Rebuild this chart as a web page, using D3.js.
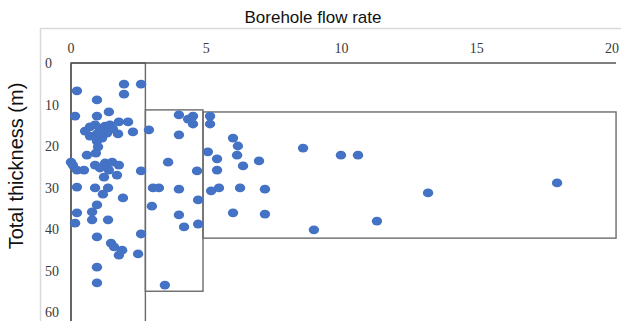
<!DOCTYPE html>
<html>
<head>
<meta charset="utf-8">
<script src="https://cdn.jsdelivr.net/npm/d3@7"></script>
<style>
  html, body { margin: 0; padding: 0; background: #fff; }
  svg { display: block; }
</style>
</head>
<body>
<div id="chart"></div>
<script>
// borehole flow rate (x) vs total thickness in m (y)
var flowRate = [
  0.22, 1.96, 2.59, 1.96, 0.96, 0.15, 0.96, 1.40, 1.77, 2.11, 2.29, 1.74,
  0.52, 0.70, 0.89, 1.07, 1.26, 1.44, 1.55, 1.33, 0.96, 0.70, 1.15,
  0.96, 1.00, 0.92,
  0.59, 0.00, 0.07, 0.22, 0.48, 0.89, 1.07, 1.26, 1.52, 1.77, 1.40, 1.70, 1.22, 2.59,
  0.22, 0.89, 1.37, 1.18, 1.92, 0.96, 0.22, 0.78, 0.78, 1.37, 0.15,
  0.96, 1.48, 1.59, 1.89, 1.77, 2.48, 2.59, 0.96, 0.96,
  2.88, 3.99, 4.33, 4.51, 4.51, 3.99, 3.59, 4.66, 3.03, 3.25, 3.99, 4.70,
  2.99, 3.99, 4.18, 4.70, 3.47,
  5.14, 5.14, 5.99, 6.17, 5.06, 6.14, 5.40, 6.95, 5.40, 6.36, 5.18, 5.47,
  6.25, 7.17, 5.99, 7.17,
  8.58, 9.98, 10.61, 17.97, 13.20, 11.31, 8.98
];
var thickness = [
  6.7, 5.1, 5.1, 7.5, 8.9, 12.8, 12.8, 11.8, 14.2, 14.2, 16.6, 17.1,
  16.4, 15.4, 14.9, 15.7, 15.2, 14.9, 15.9, 16.9, 17.1, 17.6, 18.1,
  18.8, 20.2, 21.7,
  22.2, 23.9, 24.6, 25.8, 25.8, 24.6, 25.3, 24.1, 23.9, 24.6, 25.8, 27.0, 27.5, 26.0,
  29.9, 30.1, 30.1, 31.6, 32.5, 34.2, 36.1, 35.9, 37.8, 37.8, 38.6,
  41.9, 43.4, 44.3, 45.1, 46.3, 46.0, 41.2, 49.2, 53.0,
  16.1, 12.5, 13.5, 12.8, 14.7, 17.3, 23.9, 26.0, 30.1, 30.1, 30.4, 33.0,
  34.5, 36.6, 39.5, 38.8, 53.5,
  12.8, 14.7, 18.1, 20.0, 21.4, 22.2, 23.1, 23.6, 25.8, 24.8, 30.8, 30.1,
  30.1, 30.4, 36.1, 36.4,
  20.5, 22.2, 22.2, 28.9, 31.3, 38.1, 40.2
];

var xTicks = [0, 5, 10, 15, 20];
var yTicks = [0, 10, 20, 30, 40, 50, 60];

// the three outlined zones: [x0, x1, y0, y1] in data units
var zones = [
  [0, 2.75, 0, 62.5],
  [2.75, 4.88, 11.3, 55],
  [4.88, 20.15, 11.8, 42.2]
];

var width = 621, height = 321;

var svg = d3.select("#chart").append("svg")
    .attr("width", width)
    .attr("height", height);

var x = d3.scaleLinear().domain([0, 20]).range([71, 612]);
var y = d3.scaleLinear().domain([0, 60]).range([63, 312]);

// light chart frame
svg.append("path")
    .attr("d", "M40.5," + height + "V28.5H" + width)
    .attr("fill", "none")
    .attr("stroke", "#d9d9d9")
    .attr("stroke-width", 1.5);

svg.append("text")
    .attr("x", 313)
    .attr("y", 23)
    .attr("text-anchor", "middle")
    .style("font", "17px 'Liberation Sans', Arial, sans-serif")
    .attr("fill", "#111")
    .text("Borehole flow rate");

svg.append("text")
    .attr("transform", "translate(23,166) rotate(-90)")
    .attr("text-anchor", "middle")
    .style("font", "20px 'Liberation Sans', Arial, sans-serif")
    .attr("fill", "#111")
    .text("Total thickness (m)");

// tick labels
svg.append("g")
    .selectAll("text")
    .data(xTicks)
    .join("text")
    .attr("x", d => x(d))
    .attr("y", 53)
    .attr("text-anchor", "middle")
    .style("font", "14px 'Liberation Serif', 'DejaVu Serif', serif")
    .attr("fill", "#3a3a3a")
    .text(d => d);

svg.append("g")
    .selectAll("text")
    .data(yTicks)
    .join("text")
    .attr("x", 45)
    .attr("y", d => y(d) + 5)
    .attr("text-anchor", "start")
    .style("font", "14px 'Liberation Serif', 'DejaVu Serif', serif")
    .attr("fill", "#3a3a3a")
    .text(d => d);

// zone outlines
svg.append("g")
    .selectAll("rect")
    .data(zones)
    .join("rect")
    .attr("x", d => x(d[0]))
    .attr("y", d => y(d[2]))
    .attr("width", d => x(d[1]) - x(d[0]))
    .attr("height", d => y(d[3]) - y(d[2]))
    .attr("fill", "none")
    .attr("stroke", "#6b6b6b")
    .attr("stroke-width", 1.4);

// axis lines along the top and the left
svg.append("line")
    .attr("x1", x(0)).attr("x2", x(20.15))
    .attr("y1", y(0)).attr("y2", y(0))
    .attr("stroke", "#555").attr("stroke-width", 1.5);
svg.append("line")
    .attr("x1", x(0)).attr("x2", x(0))
    .attr("y1", y(0)).attr("y2", height)
    .attr("stroke", "#555").attr("stroke-width", 1.5);

var pts = flowRate.map((v, i) => [v, thickness[i]]);

svg.append("g")
    .selectAll("ellipse")
    .data(pts)
    .join("ellipse")
    .attr("cx", d => x(d[0]))
    .attr("cy", d => y(d[1]))
    .attr("rx", 5.2)
    .attr("ry", 4.4)
    .attr("fill", "#4472c4");
</script>
</body>
</html>
